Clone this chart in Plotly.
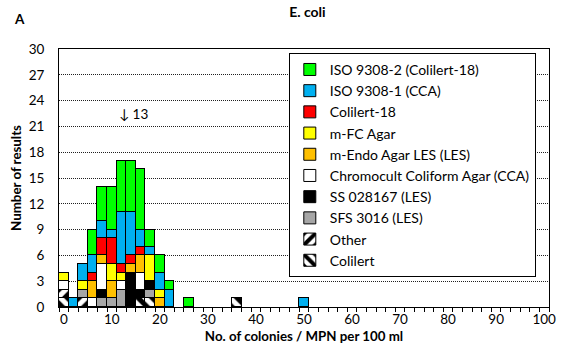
import plotly.graph_objects as go

# Bin positions (No. of colonies / MPN per 100 ml), bins of width 2
bins = [0, 2, 4, 6, 8, 10, 12, 14, 16, 18, 20, 22, 26, 36, 50]

# Series counts per bin (stack order bottom -> top)
colilert      = [1, 0, 0, 0, 0, 0, 0, 0, 1, 1, 0, 0, 0, 1, 0]
other         = [1, 0, 1, 0, 0, 0, 0, 0, 0, 0, 0, 0, 0, 0, 0]
sfs_3016      = [0, 0, 1, 0, 1, 1, 2, 0, 0, 1, 0, 0, 0, 0, 0]
ss_028167     = [0, 0, 0, 0, 1, 0, 0, 4, 1, 1, 0, 0, 0, 0, 0]
chromocult    = [1, 0, 0, 1, 3, 0, 1, 0, 2, 0, 0, 0, 0, 0, 0]
m_endo        = [0, 0, 0, 2, 1, 2, 0, 1, 2, 0, 1, 0, 0, 0, 0]
m_fc          = [1, 0, 1, 0, 0, 2, 1, 0, 0, 3, 1, 0, 0, 0, 0]
colilert_18   = [0, 0, 0, 1, 2, 3, 1, 1, 1, 0, 0, 0, 0, 0, 0]
iso_9308_1    = [0, 1, 2, 2, 2, 1, 6, 5, 2, 1, 2, 2, 0, 0, 1]
iso_9308_2    = [0, 0, 0, 3, 4, 5, 6, 6, 7, 2, 2, 1, 1, 0, 0]

series_names = ["Colilert", "Other", "SFS 3016 (LES)", "SS 028167 (LES)",
                "Chromocult Coliform Agar (CCA)", "m-Endo Agar LES (LES)",
                "m-FC Agar", "Colilert-18", "ISO 9308-1 (CCA)", "ISO 9308-2 (Colilert-18)"]
series_values = [colilert, other, sfs_3016, ss_028167, chromocult, m_endo,
                 m_fc, colilert_18, iso_9308_1, iso_9308_2]
series_colors = ["#FFFFFF", "#FFFFFF", "#A6A6A6", "#000000", "#FFFFFF", "#FFC000",
                 "#FFFF00", "#FF0000", "#00B0F0", "#00FF00"]
series_patterns = ["\\", "/", "", "", "", "", "", "", "", ""]

x_ticks = [0, 10, 20, 30, 40, 50, 60, 70, 80, 90, 100]
y_ticks = [0, 3, 6, 9, 12, 15, 18, 21, 24, 27, 30]

FONT = "Lato"

fig = go.Figure()
for i, (name, vals, col, pat) in enumerate(zip(series_names, series_values,
                                                series_colors, series_patterns)):
    marker = dict(color=col, line=dict(color="black", width=1))
    if pat:
        marker["pattern"] = dict(shape=pat, fgcolor="black", bgcolor="white",
                                 size=10, solidity=0.5, fillmode="replace")
    fig.add_trace(go.Bar(x=bins, y=vals, name=name, width=2, marker=marker,
                         legendgroup="g%d" % i))

fig.update_layout(
    width=563, height=354,
    barmode="stack", bargap=0,
    margin=dict(l=59, r=7, t=49, b=47, pad=0),
    paper_bgcolor="white", plot_bgcolor="white",
    font=dict(family=FONT, size=13, color="black"),
    title=dict(text="<b>E. coli</b>", x=0.546, xanchor="center", y=0.965,
               yanchor="middle", font=dict(size=14, family=FONT)),
    legend=dict(x=0.469, xanchor="left", y=0.985, yanchor="top",
                traceorder="reversed", tracegroupgap=0.6,
                bordercolor="black", borderwidth=1, bgcolor="white",
                font=dict(size=14, family=FONT), itemwidth=30),
    showlegend=True,
)

fig.update_xaxes(
    range=[-1, 101], tickmode="array", tickvals=x_ticks,
    ticktext=[str(v) for v in x_ticks], ticks="", showgrid=False,
    showline=True, linecolor="black", linewidth=1, mirror=True,
    zeroline=False, tickfont=dict(size=13.5), ticklabeloverflow="allow",
    minor=dict(tickmode="linear", tick0=-1, dtick=2, ticks="outside",
               ticklen=4, tickcolor="black", showgrid=False),
    title=dict(text="<b>No. of colonies / MPN per 100 ml</b>",
               font=dict(size=13.3), standoff=5),
)
fig.update_yaxes(
    range=[0, 30], tickmode="array", tickvals=y_ticks,
    showgrid=True, gridcolor="#202020", griddash="1px,1px", gridwidth=1,
    showline=True, linecolor="black", linewidth=1, mirror=True,
    zeroline=False, ticks="", ticklabelstandoff=11, tickfont=dict(size=13.5),
    title=dict(text="<b>Number of results</b>", font=dict(size=13.3), standoff=3),
)

fig.add_annotation(x=14.6, y=22.5, xref="x", yref="y", text="↓ 13",
                   showarrow=False, font=dict(size=13.5, family=FONT))
fig.add_annotation(x=-0.08, y=1.115, xref="paper", yref="paper", text="<b>A</b>",
                   xanchor="center", yanchor="middle",
                   showarrow=False, font=dict(size=13.5, family=FONT))

fig.write_html("out.html")
